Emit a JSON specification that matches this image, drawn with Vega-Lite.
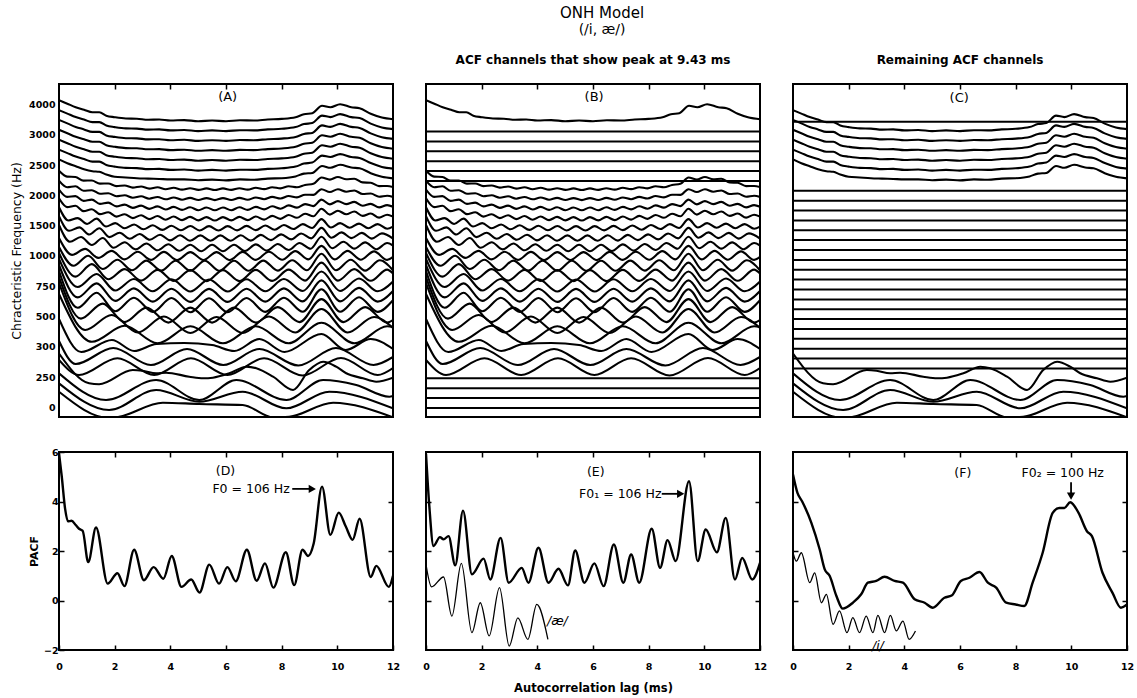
{
"$schema":"https://vega.github.io/schema/vega-lite/v6.json",
"background":"white",
"padding":{"left":9,"top":6,"right":5,"bottom":2},
"config":{
 "font":"DejaVu Sans",
 "view":{"stroke":"#000","strokeWidth":2},
 "axis":{"domain":false,"grid":false,"tickColor":"#000","tickWidth":1.5,"labelColor":"#000","titleColor":"#000","labelFontWeight":"bold","labelFontSize":9.5,"labelFlush":false,"labelOverlap":false},
 "title":{"color":"#000","subtitleColor":"#000"},
 "line":{"color":"#000"},
 "rule":{"color":"#000"},
 "text":{"color":"#000"}
},
"title":{"text":"ONH Model","subtitle":"(/i, æ/)","fontSize":15,"fontWeight":"normal","subtitleFontSize":14,"subtitlePadding":2,"anchor":"middle","offset":16,"dx":30},
"datasets":{
"acf":[
{"c":1,"x":0,"y":31.68},{"c":1,"x":0.3,"y":31.33},{"c":1,"x":0.6,"y":30.98},{"c":1,"x":0.9,"y":30.73},{"c":1,"x":1.2,"y":30.48},{"c":1,"x":1.45,"y":30.48},{"c":1,"x":1.7,"y":30.13},{"c":1,"x":2,"y":29.98},{"c":1,"x":2.4,"y":29.85},{"c":1,"x":2.8,"y":29.83},{"c":1,"x":3.2,"y":29.73},{"c":1,"x":3.6,"y":29.75},{"c":1,"x":4,"y":29.65},{"c":1,"x":4.5,"y":29.69},{"c":1,"x":5,"y":29.58},{"c":1,"x":5.5,"y":29.65},{"c":1,"x":6,"y":29.58},{"c":1,"x":6.5,"y":29.67},{"c":1,"x":7,"y":29.65},{"c":1,"x":7.5,"y":29.75},{"c":1,"x":8,"y":29.81},{"c":1,"x":8.5,"y":29.98},{"c":1,"x":8.8,"y":30.28},{"c":1,"x":9.1,"y":30.38},{"c":1,"x":9.45,"y":31.13},{"c":1,"x":9.75,"y":30.98},{"c":1,"x":10.1,"y":31.28},{"c":1,"x":10.5,"y":30.98},{"c":1,"x":10.8,"y":30.88},{"c":1,"x":11.2,"y":30.33},{"c":1,"x":11.6,"y":29.95},{"c":1,"x":12,"y":29.78},
{"c":2,"x":0,"y":30.69},{"c":2,"x":0.3,"y":30.34},{"c":2,"x":0.6,"y":29.99},{"c":2,"x":0.9,"y":29.74},{"c":2,"x":1.2,"y":29.49},{"c":2,"x":1.45,"y":29.49},{"c":2,"x":1.7,"y":29.14},{"c":2,"x":2,"y":28.99},{"c":2,"x":2.4,"y":28.86},{"c":2,"x":2.8,"y":28.84},{"c":2,"x":3.2,"y":28.74},{"c":2,"x":3.6,"y":28.76},{"c":2,"x":4,"y":28.66},{"c":2,"x":4.5,"y":28.7},{"c":2,"x":5,"y":28.59},{"c":2,"x":5.5,"y":28.66},{"c":2,"x":6,"y":28.59},{"c":2,"x":6.5,"y":28.68},{"c":2,"x":7,"y":28.66},{"c":2,"x":7.5,"y":28.76},{"c":2,"x":8,"y":28.82},{"c":2,"x":8.5,"y":28.99},{"c":2,"x":8.8,"y":29.29},{"c":2,"x":9.1,"y":29.39},{"c":2,"x":9.45,"y":30.14},{"c":2,"x":9.75,"y":29.99},{"c":2,"x":10.1,"y":30.29},{"c":2,"x":10.5,"y":29.99},{"c":2,"x":10.8,"y":29.89},{"c":2,"x":11.2,"y":29.34},{"c":2,"x":11.6,"y":28.96},{"c":2,"x":12,"y":28.79},
{"c":3,"x":0,"y":29.71},{"c":3,"x":0.3,"y":29.36},{"c":3,"x":0.6,"y":29.01},{"c":3,"x":0.9,"y":28.76},{"c":3,"x":1.2,"y":28.51},{"c":3,"x":1.45,"y":28.51},{"c":3,"x":1.7,"y":28.16},{"c":3,"x":2,"y":28.01},{"c":3,"x":2.4,"y":27.88},{"c":3,"x":2.8,"y":27.86},{"c":3,"x":3.2,"y":27.76},{"c":3,"x":3.6,"y":27.78},{"c":3,"x":4,"y":27.68},{"c":3,"x":4.5,"y":27.72},{"c":3,"x":5,"y":27.61},{"c":3,"x":5.5,"y":27.68},{"c":3,"x":6,"y":27.61},{"c":3,"x":6.5,"y":27.7},{"c":3,"x":7,"y":27.68},{"c":3,"x":7.5,"y":27.78},{"c":3,"x":8,"y":27.84},{"c":3,"x":8.5,"y":28.01},{"c":3,"x":8.8,"y":28.31},{"c":3,"x":9.1,"y":28.41},{"c":3,"x":9.45,"y":29.16},{"c":3,"x":9.75,"y":29.01},{"c":3,"x":10.1,"y":29.31},{"c":3,"x":10.5,"y":29.01},{"c":3,"x":10.8,"y":28.91},{"c":3,"x":11.2,"y":28.36},{"c":3,"x":11.6,"y":27.98},{"c":3,"x":12,"y":27.81},
{"c":4,"x":0,"y":28.72},{"c":4,"x":0.3,"y":28.37},{"c":4,"x":0.6,"y":28.02},{"c":4,"x":0.9,"y":27.77},{"c":4,"x":1.2,"y":27.52},{"c":4,"x":1.45,"y":27.52},{"c":4,"x":1.7,"y":27.17},{"c":4,"x":2,"y":27.02},{"c":4,"x":2.4,"y":26.89},{"c":4,"x":2.8,"y":26.87},{"c":4,"x":3.2,"y":26.77},{"c":4,"x":3.6,"y":26.79},{"c":4,"x":4,"y":26.69},{"c":4,"x":4.5,"y":26.73},{"c":4,"x":5,"y":26.62},{"c":4,"x":5.5,"y":26.69},{"c":4,"x":6,"y":26.62},{"c":4,"x":6.5,"y":26.71},{"c":4,"x":7,"y":26.69},{"c":4,"x":7.5,"y":26.79},{"c":4,"x":8,"y":26.85},{"c":4,"x":8.5,"y":27.02},{"c":4,"x":8.8,"y":27.32},{"c":4,"x":9.1,"y":27.42},{"c":4,"x":9.45,"y":28.17},{"c":4,"x":9.75,"y":28.02},{"c":4,"x":10.1,"y":28.32},{"c":4,"x":10.5,"y":28.02},{"c":4,"x":10.8,"y":27.92},{"c":4,"x":11.2,"y":27.37},{"c":4,"x":11.6,"y":26.99},{"c":4,"x":12,"y":26.82},
{"c":5,"x":0,"y":27.73},{"c":5,"x":0.3,"y":27.38},{"c":5,"x":0.6,"y":27.03},{"c":5,"x":0.9,"y":26.78},{"c":5,"x":1.2,"y":26.53},{"c":5,"x":1.45,"y":26.53},{"c":5,"x":1.7,"y":26.18},{"c":5,"x":2,"y":26.03},{"c":5,"x":2.4,"y":25.9},{"c":5,"x":2.8,"y":25.88},{"c":5,"x":3.2,"y":25.78},{"c":5,"x":3.6,"y":25.8},{"c":5,"x":4,"y":25.7},{"c":5,"x":4.5,"y":25.74},{"c":5,"x":5,"y":25.63},{"c":5,"x":5.5,"y":25.7},{"c":5,"x":6,"y":25.63},{"c":5,"x":6.5,"y":25.72},{"c":5,"x":7,"y":25.7},{"c":5,"x":7.5,"y":25.8},{"c":5,"x":8,"y":25.86},{"c":5,"x":8.5,"y":26.03},{"c":5,"x":8.8,"y":26.33},{"c":5,"x":9.1,"y":26.43},{"c":5,"x":9.45,"y":27.18},{"c":5,"x":9.75,"y":27.03},{"c":5,"x":10.1,"y":27.33},{"c":5,"x":10.5,"y":27.03},{"c":5,"x":10.8,"y":26.93},{"c":5,"x":11.2,"y":26.38},{"c":5,"x":11.6,"y":26},{"c":5,"x":12,"y":25.83},
{"c":6,"x":0,"y":26.74},{"c":6,"x":0.3,"y":26.39},{"c":6,"x":0.6,"y":26.04},{"c":6,"x":0.9,"y":25.79},{"c":6,"x":1.2,"y":25.54},{"c":6,"x":1.45,"y":25.54},{"c":6,"x":1.7,"y":25.19},{"c":6,"x":2,"y":25.04},{"c":6,"x":2.4,"y":24.91},{"c":6,"x":2.8,"y":24.89},{"c":6,"x":3.2,"y":24.79},{"c":6,"x":3.6,"y":24.81},{"c":6,"x":4,"y":24.71},{"c":6,"x":4.5,"y":24.75},{"c":6,"x":5,"y":24.64},{"c":6,"x":5.5,"y":24.71},{"c":6,"x":6,"y":24.64},{"c":6,"x":6.5,"y":24.73},{"c":6,"x":7,"y":24.71},{"c":6,"x":7.5,"y":24.81},{"c":6,"x":8,"y":24.87},{"c":6,"x":8.5,"y":25.04},{"c":6,"x":8.8,"y":25.34},{"c":6,"x":9.1,"y":25.44},{"c":6,"x":9.45,"y":26.14},{"c":6,"x":9.75,"y":26},{"c":6,"x":10.1,"y":26.29},{"c":6,"x":10.5,"y":26},{"c":6,"x":10.8,"y":25.9},{"c":6,"x":11.2,"y":25.39},{"c":6,"x":11.6,"y":25.01},{"c":6,"x":12,"y":24.84},
{"c":7,"x":0,"y":25.76},{"c":7,"x":0.3,"y":25.38},{"c":7,"x":0.6,"y":25.08},{"c":7,"x":0.9,"y":24.78},{"c":7,"x":1.2,"y":24.58},{"c":7,"x":1.45,"y":24.52},{"c":7,"x":1.7,"y":24.25},{"c":7,"x":2,"y":24.02},{"c":7,"x":2.4,"y":23.95},{"c":7,"x":2.8,"y":23.88},{"c":7,"x":3.2,"y":23.84},{"c":7,"x":3.6,"y":23.8},{"c":7,"x":4,"y":23.76},{"c":7,"x":4.5,"y":23.76},{"c":7,"x":5,"y":23.68},{"c":7,"x":5.5,"y":23.74},{"c":7,"x":6,"y":23.66},{"c":7,"x":6.5,"y":23.76},{"c":7,"x":7,"y":23.72},{"c":7,"x":7.5,"y":23.84},{"c":7,"x":8,"y":23.88},{"c":7,"x":8.5,"y":24.06},{"c":7,"x":8.8,"y":24.34},{"c":7,"x":9.1,"y":24.4},{"c":7,"x":9.45,"y":25.1},{"c":7,"x":9.75,"y":24.92},{"c":7,"x":10.1,"y":25.22},{"c":7,"x":10.5,"y":24.95},{"c":7,"x":10.8,"y":24.88},{"c":7,"x":11.2,"y":24.38},{"c":7,"x":11.6,"y":24.02},{"c":7,"x":12,"y":23.86},
{"c":8,"x":0,"y":24.62},{"c":8,"x":0.29,"y":24.04},{"c":8,"x":0.59,"y":24},{"c":8,"x":0.88,"y":23.64},{"c":8,"x":1.18,"y":23.65},{"c":8,"x":1.47,"y":23.34},{"c":8,"x":1.77,"y":23.35},{"c":8,"x":2.06,"y":23.09},{"c":8,"x":2.36,"y":23.15},{"c":8,"x":2.65,"y":22.94},{"c":8,"x":2.95,"y":23.05},{"c":8,"x":3.24,"y":22.84},{"c":8,"x":3.54,"y":22.97},{"c":8,"x":3.83,"y":22.78},{"c":8,"x":4.12,"y":22.92},{"c":8,"x":4.42,"y":22.74},{"c":8,"x":4.71,"y":22.88},{"c":8,"x":5.01,"y":22.71},{"c":8,"x":5.3,"y":22.86},{"c":8,"x":5.6,"y":22.7},{"c":8,"x":5.89,"y":22.86},{"c":8,"x":6.19,"y":22.71},{"c":8,"x":6.48,"y":22.88},{"c":8,"x":6.78,"y":22.74},{"c":8,"x":7.07,"y":22.92},{"c":8,"x":7.37,"y":22.79},{"c":8,"x":7.66,"y":22.98},{"c":8,"x":7.96,"y":22.86},{"c":8,"x":8.25,"y":23.07},{"c":8,"x":8.55,"y":22.97},{"c":8,"x":8.84,"y":23.2},{"c":8,"x":9.14,"y":23.32},{"c":8,"x":9.43,"y":23.95},{"c":8,"x":9.73,"y":23.74},{"c":8,"x":10.02,"y":24},{"c":8,"x":10.32,"y":23.77},{"c":8,"x":10.61,"y":23.82},{"c":8,"x":10.91,"y":23.46},{"c":8,"x":11.2,"y":23.42},{"c":8,"x":11.5,"y":23.09},{"c":8,"x":11.79,"y":23.1},{"c":8,"x":12,"y":23},
{"c":9,"x":0,"y":23.63},{"c":9,"x":0.29,"y":22.98},{"c":9,"x":0.59,"y":23.08},{"c":9,"x":0.88,"y":22.63},{"c":9,"x":1.18,"y":22.68},{"c":9,"x":1.47,"y":22.33},{"c":9,"x":1.77,"y":22.38},{"c":9,"x":2.06,"y":22.08},{"c":9,"x":2.36,"y":22.18},{"c":9,"x":2.65,"y":21.93},{"c":9,"x":2.95,"y":22.08},{"c":9,"x":3.24,"y":21.83},{"c":9,"x":3.54,"y":22},{"c":9,"x":3.83,"y":21.77},{"c":9,"x":4.12,"y":21.95},{"c":9,"x":4.42,"y":21.73},{"c":9,"x":4.71,"y":21.91},{"c":9,"x":5.01,"y":21.7},{"c":9,"x":5.3,"y":21.89},{"c":9,"x":5.6,"y":21.69},{"c":9,"x":5.89,"y":21.89},{"c":9,"x":6.19,"y":21.7},{"c":9,"x":6.48,"y":21.91},{"c":9,"x":6.78,"y":21.73},{"c":9,"x":7.07,"y":21.95},{"c":9,"x":7.37,"y":21.78},{"c":9,"x":7.66,"y":22.01},{"c":9,"x":7.96,"y":21.85},{"c":9,"x":8.25,"y":22.1},{"c":9,"x":8.55,"y":21.96},{"c":9,"x":8.84,"y":22.23},{"c":9,"x":9.14,"y":22.21},{"c":9,"x":9.43,"y":22.78},{"c":9,"x":9.73,"y":22.5},{"c":9,"x":10.02,"y":22.78},{"c":9,"x":10.32,"y":22.53},{"c":9,"x":10.61,"y":22.65},{"c":9,"x":10.91,"y":22.3},{"c":9,"x":11.2,"y":22.35},{"c":9,"x":11.5,"y":22.03},{"c":9,"x":11.79,"y":22.13},{"c":9,"x":12,"y":22.01},
{"c":10,"x":0,"y":22.75},{"c":10,"x":0.29,"y":22.01},{"c":10,"x":0.59,"y":22.09},{"c":10,"x":0.88,"y":21.61},{"c":10,"x":1.18,"y":21.74},{"c":10,"x":1.47,"y":21.31},{"c":10,"x":1.77,"y":21.44},{"c":10,"x":2.06,"y":21.06},{"c":10,"x":2.36,"y":21.24},{"c":10,"x":2.65,"y":20.91},{"c":10,"x":2.95,"y":21.14},{"c":10,"x":3.24,"y":20.81},{"c":10,"x":3.54,"y":21.06},{"c":10,"x":3.83,"y":20.75},{"c":10,"x":4.12,"y":21.01},{"c":10,"x":4.42,"y":20.71},{"c":10,"x":4.71,"y":20.97},{"c":10,"x":5.01,"y":20.68},{"c":10,"x":5.3,"y":20.95},{"c":10,"x":5.6,"y":20.67},{"c":10,"x":5.89,"y":20.95},{"c":10,"x":6.19,"y":20.68},{"c":10,"x":6.48,"y":20.97},{"c":10,"x":6.78,"y":20.71},{"c":10,"x":7.07,"y":21.01},{"c":10,"x":7.37,"y":20.76},{"c":10,"x":7.66,"y":21.07},{"c":10,"x":7.96,"y":20.83},{"c":10,"x":8.25,"y":21.16},{"c":10,"x":8.55,"y":20.94},{"c":10,"x":8.84,"y":21.29},{"c":10,"x":9.14,"y":21.09},{"c":10,"x":9.43,"y":21.74},{"c":10,"x":9.73,"y":21.26},{"c":10,"x":10.02,"y":21.59},{"c":10,"x":10.32,"y":21.29},{"c":10,"x":10.61,"y":21.51},{"c":10,"x":10.91,"y":21.13},{"c":10,"x":11.2,"y":21.31},{"c":10,"x":11.5,"y":20.96},{"c":10,"x":11.79,"y":21.19},{"c":10,"x":12,"y":21.03},
{"c":11,"x":0,"y":21.86},{"c":11,"x":0.29,"y":20.99},{"c":11,"x":0.59,"y":21.13},{"c":11,"x":0.88,"y":20.59},{"c":11,"x":1.18,"y":20.78},{"c":11,"x":1.47,"y":20.29},{"c":11,"x":1.77,"y":20.48},{"c":11,"x":2.06,"y":20.04},{"c":11,"x":2.36,"y":20.28},{"c":11,"x":2.65,"y":19.89},{"c":11,"x":2.95,"y":20.18},{"c":11,"x":3.24,"y":19.79},{"c":11,"x":3.54,"y":20.1},{"c":11,"x":3.83,"y":19.73},{"c":11,"x":4.12,"y":20.05},{"c":11,"x":4.42,"y":19.69},{"c":11,"x":4.71,"y":20.01},{"c":11,"x":5.01,"y":19.66},{"c":11,"x":5.3,"y":19.99},{"c":11,"x":5.6,"y":19.65},{"c":11,"x":5.89,"y":19.99},{"c":11,"x":6.19,"y":19.66},{"c":11,"x":6.48,"y":20.01},{"c":11,"x":6.78,"y":19.69},{"c":11,"x":7.07,"y":20.05},{"c":11,"x":7.37,"y":19.74},{"c":11,"x":7.66,"y":20.11},{"c":11,"x":7.96,"y":19.81},{"c":11,"x":8.25,"y":20.2},{"c":11,"x":8.55,"y":19.92},{"c":11,"x":8.84,"y":20.33},{"c":11,"x":9.14,"y":20.07},{"c":11,"x":9.43,"y":20.83},{"c":11,"x":9.73,"y":20.24},{"c":11,"x":10.02,"y":20.63},{"c":11,"x":10.32,"y":20.27},{"c":11,"x":10.61,"y":20.55},{"c":11,"x":10.91,"y":20.11},{"c":11,"x":11.2,"y":20.35},{"c":11,"x":11.5,"y":19.94},{"c":11,"x":11.79,"y":20.23},{"c":11,"x":12,"y":20.04},
{"c":12,"x":0,"y":20.97},{"c":12,"x":0.34,"y":19.65},{"c":12,"x":0.67,"y":19.89},{"c":12,"x":1.01,"y":19.3},{"c":12,"x":1.35,"y":19.84},{"c":12,"x":1.69,"y":19.05},{"c":12,"x":2.02,"y":19.39},{"c":12,"x":2.36,"y":18.87},{"c":12,"x":2.7,"y":19.25},{"c":12,"x":3.03,"y":18.77},{"c":12,"x":3.37,"y":19.17},{"c":12,"x":3.71,"y":18.71},{"c":12,"x":4.04,"y":19.13},{"c":12,"x":4.38,"y":18.67},{"c":12,"x":4.72,"y":19.1},{"c":12,"x":5.05,"y":18.65},{"c":12,"x":5.39,"y":19.09},{"c":12,"x":5.73,"y":18.65},{"c":12,"x":6.06,"y":19.09},{"c":12,"x":6.4,"y":18.66},{"c":12,"x":6.74,"y":19.11},{"c":12,"x":7.07,"y":18.69},{"c":12,"x":7.41,"y":19.15},{"c":12,"x":7.75,"y":18.73},{"c":12,"x":8.08,"y":19.2},{"c":12,"x":8.42,"y":18.8},{"c":12,"x":8.76,"y":19.29},{"c":12,"x":9.09,"y":18.9},{"c":12,"x":9.43,"y":19.79},{"c":12,"x":9.77,"y":18.95},{"c":12,"x":10.1,"y":19.39},{"c":12,"x":10.44,"y":18.93},{"c":12,"x":10.78,"y":19.34},{"c":12,"x":11.11,"y":18.87},{"c":12,"x":11.45,"y":19.29},{"c":12,"x":11.79,"y":18.83},{"c":12,"x":12,"y":19.04},
{"c":13,"x":0,"y":20.09},{"c":13,"x":0.36,"y":18.62},{"c":13,"x":0.73,"y":18.96},{"c":13,"x":1.09,"y":18.25},{"c":13,"x":1.45,"y":18.88},{"c":13,"x":1.81,"y":17.99},{"c":13,"x":2.18,"y":18.43},{"c":13,"x":2.54,"y":17.82},{"c":13,"x":2.9,"y":18.3},{"c":13,"x":3.26,"y":17.72},{"c":13,"x":3.63,"y":18.23},{"c":13,"x":3.99,"y":17.66},{"c":13,"x":4.35,"y":18.18},{"c":13,"x":4.71,"y":17.63},{"c":13,"x":5.08,"y":18.16},{"c":13,"x":5.44,"y":17.62},{"c":13,"x":5.8,"y":18.16},{"c":13,"x":6.16,"y":17.62},{"c":13,"x":6.53,"y":18.17},{"c":13,"x":6.89,"y":17.64},{"c":13,"x":7.25,"y":18.21},{"c":13,"x":7.61,"y":17.69},{"c":13,"x":7.98,"y":18.26},{"c":13,"x":8.34,"y":17.76},{"c":13,"x":8.7,"y":18.35},{"c":13,"x":9.06,"y":17.86},{"c":13,"x":9.43,"y":18.91},{"c":13,"x":9.79,"y":17.92},{"c":13,"x":10.15,"y":18.46},{"c":13,"x":10.51,"y":17.89},{"c":13,"x":10.88,"y":18.41},{"c":13,"x":11.24,"y":17.84},{"c":13,"x":11.6,"y":18.36},{"c":13,"x":12,"y":17.84},
{"c":14,"x":0,"y":19.2},{"c":14,"x":0.39,"y":17.53},{"c":14,"x":0.79,"y":18},{"c":14,"x":1.18,"y":17.2},{"c":14,"x":1.57,"y":17.9},{"c":14,"x":1.96,"y":16.93},{"c":14,"x":2.36,"y":17.47},{"c":14,"x":2.75,"y":16.76},{"c":14,"x":3.14,"y":17.35},{"c":14,"x":3.54,"y":16.67},{"c":14,"x":3.93,"y":17.28},{"c":14,"x":4.32,"y":16.62},{"c":14,"x":4.72,"y":17.23},{"c":14,"x":5.11,"y":16.58},{"c":14,"x":5.5,"y":17.22},{"c":14,"x":5.89,"y":16.58},{"c":14,"x":6.29,"y":17.23},{"c":14,"x":6.68,"y":16.6},{"c":14,"x":7.07,"y":17.26},{"c":14,"x":7.47,"y":16.64},{"c":14,"x":7.86,"y":17.3},{"c":14,"x":8.25,"y":16.7},{"c":14,"x":8.64,"y":17.4},{"c":14,"x":9.04,"y":16.82},{"c":14,"x":9.43,"y":18.02},{"c":14,"x":9.82,"y":16.88},{"c":14,"x":10.22,"y":17.52},{"c":14,"x":10.61,"y":16.84},{"c":14,"x":11,"y":17.46},{"c":14,"x":11.4,"y":16.78},{"c":14,"x":11.79,"y":17.4},{"c":14,"x":12,"y":17.15},
{"c":15,"x":0,"y":17.9},{"c":15,"x":0.47,"y":16.21},{"c":15,"x":0.94,"y":16.81},{"c":15,"x":1.41,"y":15.91},{"c":15,"x":1.89,"y":16.61},{"c":15,"x":2.36,"y":15.76},{"c":15,"x":2.83,"y":16.53},{"c":15,"x":3.3,"y":15.71},{"c":15,"x":3.77,"y":16.51},{"c":15,"x":4.24,"y":15.69},{"c":15,"x":4.72,"y":16.49},{"c":15,"x":5.19,"y":15.69},{"c":15,"x":5.66,"y":16.49},{"c":15,"x":6.13,"y":15.69},{"c":15,"x":6.6,"y":16.51},{"c":15,"x":7.07,"y":15.71},{"c":15,"x":7.54,"y":16.53},{"c":15,"x":8.02,"y":15.73},{"c":15,"x":8.49,"y":16.59},{"c":15,"x":8.96,"y":15.76},{"c":15,"x":9.43,"y":17.11},{"c":15,"x":9.9,"y":15.76},{"c":15,"x":10.37,"y":16.61},{"c":15,"x":10.84,"y":15.73},{"c":15,"x":11.32,"y":16.56},{"c":15,"x":11.79,"y":15.71},{"c":15,"x":12,"y":16.01},
{"c":16,"x":0,"y":17},{"c":16,"x":0.52,"y":15.12},{"c":16,"x":1.05,"y":16.12},{"c":16,"x":1.57,"y":14.8},{"c":16,"x":2.1,"y":15.72},{"c":16,"x":2.62,"y":14.67},{"c":16,"x":3.14,"y":15.64},{"c":16,"x":3.67,"y":14.64},{"c":16,"x":4.19,"y":15.62},{"c":16,"x":4.72,"y":14.62},{"c":16,"x":5.24,"y":15.62},{"c":16,"x":5.76,"y":14.62},{"c":16,"x":6.29,"y":15.62},{"c":16,"x":6.81,"y":14.62},{"c":16,"x":7.34,"y":15.64},{"c":16,"x":7.86,"y":14.64},{"c":16,"x":8.38,"y":15.67},{"c":16,"x":8.91,"y":14.67},{"c":16,"x":9.43,"y":16.32},{"c":16,"x":9.95,"y":14.67},{"c":16,"x":10.48,"y":15.72},{"c":16,"x":11,"y":14.64},{"c":16,"x":11.53,"y":15.67},{"c":16,"x":12,"y":14.67},
{"c":17,"x":0,"y":16.4},{"c":17,"x":0.59,"y":14.04},{"c":17,"x":1.18,"y":15.29},{"c":17,"x":1.77,"y":13.77},{"c":17,"x":2.36,"y":14.79},{"c":17,"x":2.95,"y":13.64},{"c":17,"x":3.54,"y":14.71},{"c":17,"x":4.13,"y":13.61},{"c":17,"x":4.72,"y":14.69},{"c":17,"x":5.31,"y":13.59},{"c":17,"x":5.89,"y":14.69},{"c":17,"x":6.48,"y":13.59},{"c":17,"x":7.07,"y":14.71},{"c":17,"x":7.66,"y":13.61},{"c":17,"x":8.25,"y":14.74},{"c":17,"x":8.84,"y":13.64},{"c":17,"x":9.43,"y":15.44},{"c":17,"x":10.02,"y":13.64},{"c":17,"x":10.61,"y":14.79},{"c":17,"x":11.2,"y":13.62},{"c":17,"x":11.79,"y":14.74},{"c":17,"x":12,"y":14.34},
{"c":18,"x":0,"y":15.8},{"c":18,"x":0.67,"y":13},{"c":18,"x":1.35,"y":14.3},{"c":18,"x":2.02,"y":12.65},{"c":18,"x":2.69,"y":13.8},{"c":18,"x":3.37,"y":12.57},{"c":18,"x":4.04,"y":13.77},{"c":18,"x":4.72,"y":12.55},{"c":18,"x":5.39,"y":13.75},{"c":18,"x":6.06,"y":12.55},{"c":18,"x":6.74,"y":13.77},{"c":18,"x":7.41,"y":12.57},{"c":18,"x":8.08,"y":13.8},{"c":18,"x":8.76,"y":12.6},{"c":18,"x":9.43,"y":14.55},{"c":18,"x":10.1,"y":12.6},{"c":18,"x":10.78,"y":13.85},{"c":18,"x":11.45,"y":12.57},{"c":18,"x":12,"y":13.55},
{"c":19,"x":0,"y":15.2},{"c":19,"x":0.67,"y":11.96},{"c":19,"x":1.35,"y":13.36},{"c":19,"x":2.02,"y":11.61},{"c":19,"x":2.69,"y":12.86},{"c":19,"x":3.37,"y":11.54},{"c":19,"x":4.04,"y":12.83},{"c":19,"x":4.72,"y":11.51},{"c":19,"x":5.39,"y":12.81},{"c":19,"x":6.06,"y":11.51},{"c":19,"x":6.74,"y":12.83},{"c":19,"x":7.41,"y":11.54},{"c":19,"x":8.08,"y":12.86},{"c":19,"x":8.76,"y":11.56},{"c":19,"x":9.43,"y":13.66},{"c":19,"x":10.1,"y":11.56},{"c":19,"x":10.78,"y":12.91},{"c":19,"x":11.45,"y":11.54},{"c":19,"x":12,"y":12.61},
{"c":20,"x":0,"y":14.6},{"c":20,"x":0.67,"y":10.93},{"c":20,"x":1.35,"y":12.43},{"c":20,"x":2.02,"y":10.58},{"c":20,"x":2.69,"y":11.93},{"c":20,"x":3.37,"y":10.51},{"c":20,"x":4.04,"y":11.9},{"c":20,"x":4.72,"y":10.48},{"c":20,"x":5.39,"y":11.88},{"c":20,"x":6.06,"y":10.48},{"c":20,"x":6.74,"y":11.9},{"c":20,"x":7.41,"y":10.51},{"c":20,"x":8.08,"y":11.93},{"c":20,"x":8.76,"y":10.53},{"c":20,"x":9.43,"y":12.78},{"c":20,"x":10.1,"y":10.53},{"c":20,"x":10.78,"y":11.98},{"c":20,"x":11.45,"y":10.51},{"c":20,"x":12,"y":11.68},
{"c":21,"x":0,"y":14},{"c":21,"x":0.79,"y":9.84},{"c":21,"x":1.57,"y":11.34},{"c":21,"x":2.36,"y":9.49},{"c":21,"x":3.14,"y":10.94},{"c":21,"x":3.93,"y":9.44},{"c":21,"x":4.72,"y":10.94},{"c":21,"x":5.5,"y":9.44},{"c":21,"x":6.29,"y":10.94},{"c":21,"x":7.07,"y":9.44},{"c":21,"x":7.86,"y":10.99},{"c":21,"x":8.64,"y":9.49},{"c":21,"x":9.43,"y":11.79},{"c":21,"x":10.22,"y":9.49},{"c":21,"x":11,"y":10.99},{"c":21,"x":11.79,"y":9.44},{"c":21,"x":12,"y":9.7},
{"c":22,"x":0,"y":13.4},{"c":22,"x":0.94,"y":8.7},{"c":22,"x":1.89,"y":10.2},{"c":22,"x":2.83,"y":8.45},{"c":22,"x":3.77,"y":10.05},{"c":22,"x":4.72,"y":8.4},{"c":22,"x":5.66,"y":10},{"c":22,"x":6.6,"y":8.4},{"c":22,"x":7.54,"y":10.05},{"c":22,"x":8.49,"y":8.45},{"c":22,"x":9.43,"y":10.8},{"c":22,"x":10.37,"y":8.45},{"c":22,"x":11.32,"y":10},{"c":22,"x":12,"y":8.9},
{"c":23,"x":0,"y":12.3},{"c":23,"x":1.18,"y":7.52},{"c":23,"x":2.36,"y":9.12},{"c":23,"x":3.54,"y":7.37},{"c":23,"x":4.72,"y":9.07},{"c":23,"x":5.89,"y":7.37},{"c":23,"x":7.07,"y":9.07},{"c":23,"x":8.25,"y":7.37},{"c":23,"x":9.43,"y":9.42},{"c":23,"x":10.61,"y":7.37},{"c":23,"x":11.79,"y":9.07},{"c":23,"x":12,"y":9},
{"c":24,"x":0,"y":9.8},{"c":24,"x":0.8,"y":6.5},{"c":24,"x":1.9,"y":7.7},{"c":24,"x":2.7,"y":6.6},{"c":24,"x":3.5,"y":7.3},{"c":24,"x":4.5,"y":7.4},{"c":24,"x":5.5,"y":7.2},{"c":24,"x":6.3,"y":6.6},{"c":24,"x":7.2,"y":7.8},{"c":24,"x":8.1,"y":6.5},{"c":24,"x":9.43,"y":8.3},{"c":24,"x":10.3,"y":6.7},{"c":24,"x":11.2,"y":7.8},{"c":24,"x":12,"y":6.8},
{"c":25,"x":0,"y":7.6},{"c":25,"x":0.6,"y":5.3},{"c":25,"x":1.95,"y":6.9},{"c":25,"x":3.3,"y":5.2},{"c":25,"x":4.6,"y":6.8},{"c":25,"x":5.9,"y":5.2},{"c":25,"x":7.2,"y":6.8},{"c":25,"x":8.6,"y":5.15},{"c":25,"x":9.95,"y":6.9},{"c":25,"x":11.3,"y":5.2},{"c":25,"x":12,"y":6},
{"c":26,"x":0,"y":5.7},{"c":26,"x":0.72,"y":4.2},{"c":26,"x":2.1,"y":5.87},{"c":26,"x":3.42,"y":4.2},{"c":26,"x":4.74,"y":5.87},{"c":26,"x":6.05,"y":4.2},{"c":26,"x":7.37,"y":5.87},{"c":26,"x":8.75,"y":4.15},{"c":26,"x":10.13,"y":5.9},{"c":26,"x":11.45,"y":4.2},{"c":26,"x":12,"y":4.9},
{"c":27,"x":0,"y":6.35},{"c":27,"x":1.08,"y":3.37},{"c":27,"x":1.44,"y":3.27},{"c":27,"x":2.65,"y":4.7},{"c":27,"x":3,"y":4.63},{"c":27,"x":3.49,"y":4.37},{"c":27,"x":3.85,"y":4.43},{"c":27,"x":4.68,"y":4.03},{"c":27,"x":5.18,"y":3.87},{"c":27,"x":5.53,"y":3.93},{"c":27,"x":6.12,"y":4.37},{"c":27,"x":6.73,"y":5.03},{"c":27,"x":7.09,"y":4.87},{"c":27,"x":7.69,"y":4.03},{"c":27,"x":8.41,"y":2.7},{"c":27,"x":8.99,"y":4.7},{"c":27,"x":9.49,"y":5.53},{"c":27,"x":9.96,"y":5.03},{"c":27,"x":10.32,"y":4.37},{"c":27,"x":10.92,"y":3.87},{"c":27,"x":11.4,"y":3.53},{"c":27,"x":12,"y":3.93},
{"c":28,"x":0,"y":4.37},{"c":28,"x":1.69,"y":1.7},{"c":28,"x":3.49,"y":3.7},{"c":28,"x":5.04,"y":1.7},{"c":28,"x":6.37,"y":3.7},{"c":28,"x":8.17,"y":1.7},{"c":28,"x":9.49,"y":3.7},{"c":28,"x":10.68,"y":3.2},{"c":28,"x":11.87,"y":2.03},{"c":28,"x":12,"y":2.1},
{"c":29,"x":0,"y":3.37},{"c":29,"x":1.8,"y":0.7},{"c":29,"x":3.49,"y":2.7},{"c":29,"x":5.04,"y":1.53},{"c":29,"x":6.6,"y":2.53},{"c":29,"x":8.17,"y":0.87},{"c":29,"x":9.71,"y":2.53},{"c":29,"x":12,"y":0.87},
{"c":30,"x":0,"y":2.53},{"c":30,"x":1.8,"y":-0.1},{"c":30,"x":2.16,"y":0.03},{"c":30,"x":3.73,"y":1.43},{"c":30,"x":5.04,"y":1.3},{"c":30,"x":6.6,"y":1.2},{"c":30,"x":7.69,"y":-0.03},{"c":30,"x":8.27,"y":0.03},{"c":30,"x":9.85,"y":1.43},{"c":30,"x":12,"y":-0.03}
],
"base":[
{"c":1,"y":29.53},{"c":2,"y":28.54},{"c":3,"y":27.56},{"c":4,"y":26.57},{"c":5,"y":25.58},{"c":6,"y":24.59},{"c":7,"y":23.61},{"c":8,"y":22.62},{"c":9,"y":21.63},{"c":10,"y":20.65},{"c":11,"y":19.66},{"c":12,"y":18.67},{"c":13,"y":17.69},{"c":14,"y":16.7},{"c":15,"y":15.71},{"c":16,"y":14.72},{"c":17,"y":13.74},{"c":18,"y":12.75},{"c":19,"y":11.76},{"c":20,"y":10.78},{"c":21,"y":9.79},{"c":22,"y":8.8},{"c":23,"y":7.82},{"c":24,"y":6.83},{"c":25,"y":5.84},{"c":26,"y":4.85},{"c":27,"y":3.87},{"c":28,"y":2.88},{"c":29,"y":1.89},{"c":30,"y":0.91}
],
"pacf":[
{"p":"D","s":"k","x":0,"y":5.95},{"p":"D","s":"k","x":0.1,"y":5.0},{"p":"D","s":"k","x":0.22,"y":3.7},{"p":"D","s":"k","x":0.32,"y":3.2},{"p":"D","s":"k","x":0.45,"y":3.22},{"p":"D","s":"k","x":0.6,"y":3.05},{"p":"D","s":"k","x":0.72,"y":2.9},{"p":"D","s":"k","x":0.85,"y":2.82},{"p":"D","s":"k","x":1.05,"y":1.55},{"p":"D","s":"k","x":1.33,"y":2.95},{"p":"D","s":"k","x":1.75,"y":0.68},{"p":"D","s":"k","x":2.1,"y":1.1},{"p":"D","s":"k","x":2.35,"y":0.58},{"p":"D","s":"k","x":2.7,"y":2.05},{"p":"D","s":"k","x":3.05,"y":0.82},{"p":"D","s":"k","x":3.4,"y":1.35},{"p":"D","s":"k","x":3.75,"y":0.88},{"p":"D","s":"k","x":4.05,"y":1.8},{"p":"D","s":"k","x":4.4,"y":0.55},{"p":"D","s":"k","x":4.75,"y":0.85},{"p":"D","s":"k","x":5.05,"y":0.32},{"p":"D","s":"k","x":5.4,"y":1.45},{"p":"D","s":"k","x":5.75,"y":0.68},{"p":"D","s":"k","x":6.05,"y":1.35},{"p":"D","s":"k","x":6.35,"y":0.78},{"p":"D","s":"k","x":6.75,"y":2.05},{"p":"D","s":"k","x":7.1,"y":0.8},{"p":"D","s":"k","x":7.4,"y":1.5},{"p":"D","s":"k","x":7.7,"y":0.52},{"p":"D","s":"k","x":8.15,"y":1.95},{"p":"D","s":"k","x":8.45,"y":0.62},{"p":"D","s":"k","x":8.75,"y":2.05},{"p":"D","s":"k","x":8.95,"y":1.8},{"p":"D","s":"k","x":9.15,"y":2.3},{"p":"D","s":"k","x":9.45,"y":4.6},{"p":"D","s":"k","x":9.75,"y":2.65},{"p":"D","s":"k","x":10.05,"y":3.55},{"p":"D","s":"k","x":10.3,"y":3.0},{"p":"D","s":"k","x":10.55,"y":2.45},{"p":"D","s":"k","x":10.8,"y":3.3},{"p":"D","s":"k","x":11.2,"y":0.95},{"p":"D","s":"k","x":11.4,"y":1.4},{"p":"D","s":"k","x":11.85,"y":0.55},{"p":"D","s":"k","x":12,"y":1.0},
{"p":"E","s":"k","x":0,"y":5.93},{"p":"E","s":"k","x":0.12,"y":3.8},{"p":"E","s":"k","x":0.27,"y":2.2},{"p":"E","s":"k","x":0.5,"y":2.56},{"p":"E","s":"k","x":0.63,"y":2.47},{"p":"E","s":"k","x":0.81,"y":2.6},{"p":"E","s":"k","x":1.05,"y":1.42},{"p":"E","s":"k","x":1.33,"y":3.63},{"p":"E","s":"k","x":1.65,"y":1.06},{"p":"E","s":"k","x":2.07,"y":1.69},{"p":"E","s":"k","x":2.31,"y":0.85},{"p":"E","s":"k","x":2.68,"y":2.53},{"p":"E","s":"k","x":2.97,"y":0.72},{"p":"E","s":"k","x":3.44,"y":1.32},{"p":"E","s":"k","x":3.68,"y":0.72},{"p":"E","s":"k","x":4.04,"y":2.13},{"p":"E","s":"k","x":4.4,"y":0.72},{"p":"E","s":"k","x":4.76,"y":1.28},{"p":"E","s":"k","x":5.1,"y":0.61},{"p":"E","s":"k","x":5.36,"y":2.02},{"p":"E","s":"k","x":5.69,"y":0.72},{"p":"E","s":"k","x":6.05,"y":1.5},{"p":"E","s":"k","x":6.38,"y":0.58},{"p":"E","s":"k","x":6.75,"y":2.26},{"p":"E","s":"k","x":7.09,"y":0.72},{"p":"E","s":"k","x":7.37,"y":1.86},{"p":"E","s":"k","x":7.66,"y":0.72},{"p":"E","s":"k","x":8.11,"y":2.9},{"p":"E","s":"k","x":8.41,"y":1.32},{"p":"E","s":"k","x":8.68,"y":2.44},{"p":"E","s":"k","x":8.97,"y":1.59},{"p":"E","s":"k","x":9.45,"y":4.82},{"p":"E","s":"k","x":9.76,"y":1.59},{"p":"E","s":"k","x":10.05,"y":2.87},{"p":"E","s":"k","x":10.45,"y":1.95},{"p":"E","s":"k","x":10.77,"y":3.34},{"p":"E","s":"k","x":11.1,"y":0.85},{"p":"E","s":"k","x":11.36,"y":1.72},{"p":"E","s":"k","x":11.72,"y":0.85},{"p":"E","s":"k","x":12,"y":1.52},
{"p":"E","s":"t","x":0,"y":1.45},{"p":"E","s":"t","x":0.2,"y":0.55},{"p":"E","s":"t","x":0.63,"y":0.95},{"p":"E","s":"t","x":0.93,"y":-0.63},{"p":"E","s":"t","x":1.27,"y":1.5},{"p":"E","s":"t","x":1.65,"y":-1.3},{"p":"E","s":"t","x":1.95,"y":-0.09},{"p":"E","s":"t","x":2.27,"y":-1.43},{"p":"E","s":"t","x":2.64,"y":0.52},{"p":"E","s":"t","x":2.99,"y":-1.84},{"p":"E","s":"t","x":3.3,"y":-0.7},{"p":"E","s":"t","x":3.66,"y":-1.57},{"p":"E","s":"t","x":3.98,"y":-0.16},{"p":"E","s":"t","x":4.38,"y":-1.57},
{"p":"F","s":"k","x":0,"y":5.09},{"p":"F","s":"k","x":0.16,"y":4.35},{"p":"F","s":"k","x":0.33,"y":4.0},{"p":"F","s":"k","x":0.66,"y":3.14},{"p":"F","s":"k","x":0.96,"y":2.06},{"p":"F","s":"k","x":1.14,"y":1.26},{"p":"F","s":"k","x":1.32,"y":0.99},{"p":"F","s":"k","x":1.56,"y":0.18},{"p":"F","s":"k","x":1.79,"y":-0.33},{"p":"F","s":"k","x":2.15,"y":-0.09},{"p":"F","s":"k","x":2.45,"y":0.25},{"p":"F","s":"k","x":2.69,"y":0.72},{"p":"F","s":"k","x":2.99,"y":0.79},{"p":"F","s":"k","x":3.29,"y":0.96},{"p":"F","s":"k","x":3.65,"y":0.79},{"p":"F","s":"k","x":3.95,"y":0.72},{"p":"F","s":"k","x":4.37,"y":0.05},{"p":"F","s":"k","x":4.73,"y":-0.09},{"p":"F","s":"k","x":5.02,"y":-0.29},{"p":"F","s":"k","x":5.44,"y":0.11},{"p":"F","s":"k","x":5.7,"y":0.2},{"p":"F","s":"k","x":6.03,"y":0.79},{"p":"F","s":"k","x":6.34,"y":0.92},{"p":"F","s":"k","x":6.7,"y":1.15},{"p":"F","s":"k","x":7.0,"y":0.72},{"p":"F","s":"k","x":7.3,"y":0.52},{"p":"F","s":"k","x":7.66,"y":-0.09},{"p":"F","s":"k","x":8.0,"y":-0.16},{"p":"F","s":"k","x":8.31,"y":-0.22},{"p":"F","s":"k","x":8.61,"y":0.72},{"p":"F","s":"k","x":8.97,"y":1.93},{"p":"F","s":"k","x":9.33,"y":3.54},{"p":"F","s":"k","x":9.57,"y":3.74},{"p":"F","s":"k","x":9.75,"y":3.74},{"p":"F","s":"k","x":9.96,"y":3.97},{"p":"F","s":"k","x":10.26,"y":3.54},{"p":"F","s":"k","x":10.56,"y":2.8},{"p":"F","s":"k","x":10.74,"y":2.6},{"p":"F","s":"k","x":11.12,"y":1.12},{"p":"F","s":"k","x":11.48,"y":0.31},{"p":"F","s":"k","x":11.78,"y":-0.29},{"p":"F","s":"k","x":12,"y":-0.16},
{"p":"F","s":"t","x":0,"y":1.93},{"p":"F","s":"t","x":0.12,"y":1.59},{"p":"F","s":"t","x":0.3,"y":1.93},{"p":"F","s":"t","x":0.6,"y":0.72},{"p":"F","s":"t","x":0.78,"y":1.12},{"p":"F","s":"t","x":1.02,"y":-0.09},{"p":"F","s":"t","x":1.2,"y":0.25},{"p":"F","s":"t","x":1.44,"y":-0.96},{"p":"F","s":"t","x":1.67,"y":-0.42},{"p":"F","s":"t","x":1.94,"y":-1.3},{"p":"F","s":"t","x":2.15,"y":-0.69},{"p":"F","s":"t","x":2.39,"y":-1.3},{"p":"F","s":"t","x":2.63,"y":-0.63},{"p":"F","s":"t","x":2.87,"y":-1.3},{"p":"F","s":"t","x":3.05,"y":-0.6},{"p":"F","s":"t","x":3.29,"y":-1.3},{"p":"F","s":"t","x":3.5,"y":-0.6},{"p":"F","s":"t","x":3.71,"y":-1.23},{"p":"F","s":"t","x":3.95,"y":-0.83},{"p":"F","s":"t","x":4.17,"y":-1.57},{"p":"F","s":"t","x":4.4,"y":-1.23}
],
"ann":[
{"p":"A","t":"(A)","x":6.06,"y":32.0},{"p":"B","t":"(B)","x":6.04,"y":32.0},{"p":"C","t":"(C)","x":5.97,"y":31.9},
{"p":"D","t":"(D)","x":5.98,"y":5.22},{"p":"D","t":"F0 = 106 Hz","x":6.9,"y":4.51},
{"p":"E","t":"(E)","x":6.1,"y":5.19},{"p":"E","t":"F0₁ = 106 Hz","x":6.98,"y":4.31},
{"p":"F","t":"(F)","x":6.1,"y":5.15},{"p":"F","t":"F0₂ = 100 Hz","x":9.69,"y":5.15}
],
"ital":[{"p":"E","t":"/æ/","x":4.72,"y":-0.83},{"p":"F","t":"/i/","x":3.05,"y":-1.82}],
"arr":[{"p":"D","x":8.38,"x2":9.05,"y":4.51,"y2":4.51},{"p":"E","x":8.47,"x2":9.1,"y":4.31,"y2":4.31},{"p":"F","x":9.99,"x2":9.99,"y":4.78,"y2":4.3}],
"head":[{"p":"D","x":9.1,"y":4.51},{"p":"E","x":9.15,"y":4.31},{"p":"F","x":9.99,"y":4.22}]
},
"concat":[
{"width":334,"height":333,
 "layer":[
  {"data":{"name":"acf"},"mark":{"type":"line","interpolate":"monotone","strokeWidth":2.1,"color":"#000","clip":true},
   "encoding":{
    "x":{"field":"x","type":"quantitative","scale":{"domain":[0,12],"nice":false},"axis":{"orient":"top","values":[2,4,6,8,10],"labels":false,"title":null,"tickSize":-5}},
    "y":{"field":"y","type":"quantitative","scale":{"domain":[0,33.3],"nice":false,"zero":false},"axis":{"values":[0.97,3.97,7.03,10.03,13.03,16.13,19.13,22.2,25.2,28.27,31.27],"labelExpr":"datum.value < 2 ? '0' : datum.value < 5 ? '250' : datum.value < 8 ? '300' : datum.value < 11 ? '500' : datum.value < 14 ? '750' : datum.value < 17 ? '1000' : datum.value < 20 ? '1500' : datum.value < 23 ? '2000' : datum.value < 26 ? '2500' : datum.value < 29 ? '3000' : '4000'","ticks":false,"labelPadding":4,"title":"Chracteristic Frequency (Hz)","titleFontWeight":"normal","titleFontSize":12.5,"titlePadding":5}},
    "detail":{"field":"c","type":"nominal"}}},
  {"data":{"name":"ann"},"transform":[{"filter":"datum.p == 'A'"}],"mark":{"type":"text","fontSize":13,"color":"#000"},
   "encoding":{"x":{"field":"x","type":"quantitative","axis":{"orient":"top","values":[2,4,6,8,10],"labels":false,"title":null,"tickSize":-5}},"y":{"field":"y","type":"quantitative","axis":{"values":[0.97,3.97,7.03,10.03,13.03,16.13,19.13,22.2,25.2,28.27,31.27],"labelExpr":"datum.value < 2 ? '0' : datum.value < 5 ? '250' : datum.value < 8 ? '300' : datum.value < 11 ? '500' : datum.value < 14 ? '750' : datum.value < 17 ? '1000' : datum.value < 20 ? '1500' : datum.value < 23 ? '2000' : datum.value < 26 ? '2500' : datum.value < 29 ? '3000' : '4000'","ticks":false,"labelPadding":4,"title":"Chracteristic Frequency (Hz)","titleFontWeight":"normal","titleFontSize":12.5,"titlePadding":5}},"text":{"field":"t"}}}
 ]},
{"width":334,"height":333,
 "title":{"text":"ACF channels that show peak at 9.43 ms","fontSize":12,"fontWeight":"bold","offset":16},
 "layer":[
  {"data":{"name":"acf"},"transform":[{"filter":{"field":"c","oneOf":[1,8,9,10,11,12,13,14,15,16,17,18,19,20,21,22,23,24,25,26]}}],"mark":{"type":"line","interpolate":"monotone","strokeWidth":2.1,"color":"#000","clip":true},
   "encoding":{
    "x":{"field":"x","type":"quantitative","scale":{"domain":[0,12],"nice":false},"axis":{"orient":"top","values":[2,4,6,8,10],"labels":false,"title":null,"tickSize":-5}},
    "y":{"field":"y","type":"quantitative","scale":{"domain":[0,33.3],"nice":false,"zero":false},"axis":null},
    "detail":{"field":"c","type":"nominal"}}},
  {"data":{"name":"base"},"transform":[{"filter":{"field":"c","oneOf":[2,3,4,5,6,7,27,28,29,30]}}],"mark":{"type":"rule","strokeWidth":2,"color":"#000"},
   "encoding":{"y":{"field":"y","type":"quantitative","axis":null}}},
  {"data":{"name":"ann"},"transform":[{"filter":"datum.p == 'B'"}],"mark":{"type":"text","fontSize":13,"color":"#000"},
   "encoding":{"x":{"field":"x","type":"quantitative","axis":{"orient":"top","values":[2,4,6,8,10],"labels":false,"title":null,"tickSize":-5}},"y":{"field":"y","type":"quantitative","axis":null},"text":{"field":"t"}}}
 ]},
{"width":334,"height":333,
 "title":{"text":"Remaining ACF channels","fontSize":12,"fontWeight":"bold","offset":16},
 "layer":[
  {"data":{"name":"acf"},"transform":[{"filter":{"field":"c","oneOf":[2,3,4,5,6,7,27,28,29,30]}}],"mark":{"type":"line","interpolate":"monotone","strokeWidth":2.1,"color":"#000","clip":true},
   "encoding":{
    "x":{"field":"x","type":"quantitative","scale":{"domain":[0,12],"nice":false},"axis":{"orient":"top","values":[2,4,6,8,10],"labels":false,"title":null,"tickSize":-5}},
    "y":{"field":"y","type":"quantitative","scale":{"domain":[0,33.3],"nice":false,"zero":false},"axis":null},
    "detail":{"field":"c","type":"nominal"}}},
  {"data":{"name":"base"},"transform":[{"filter":{"field":"c","oneOf":[1,8,9,10,11,12,13,14,15,16,17,18,19,20,21,22,23,24,25,26]}}],"mark":{"type":"rule","strokeWidth":2,"color":"#000"},
   "encoding":{"y":{"field":"y","type":"quantitative","axis":null}}},
  {"data":{"name":"ann"},"transform":[{"filter":"datum.p == 'C'"}],"mark":{"type":"text","fontSize":13,"color":"#000"},
   "encoding":{"x":{"field":"x","type":"quantitative","axis":{"orient":"top","values":[2,4,6,8,10],"labels":false,"title":null,"tickSize":-5}},"y":{"field":"y","type":"quantitative","axis":null},"text":{"field":"t"}}}
 ]},
{"width":334,"height":198,
 "resolve":{"axis":{"x":"independent","y":"independent"}},
 "layer":[
  {"data":{"name":"pacf"},"transform":[{"filter":"datum.p == 'D' && datum.s == 'k'"}],"mark":{"type":"line","interpolate":"monotone","strokeWidth":2.4,"color":"#000","clip":true},
   "encoding":{
    "x":{"field":"x","type":"quantitative","scale":{"domain":[0,12],"nice":false},"axis":{"orient":"bottom","values":[0,2,4,6,8,10,12],"title":null,"tickSize":-5,"labelPadding":16}},
    "y":{"field":"y","type":"quantitative","scale":{"domain":[-2,6],"nice":false,"zero":false},"axis":{"orient":"left","values":[-2,0,2,4,6],"tickSize":-5,"labelPadding":6,"title":"PACF","titleFontWeight":"bold","titleFontSize":11,"titlePadding":4}}}},
  {"data":{"name":"ann"},"transform":[{"filter":"datum.p == 'D'"}],"mark":{"type":"text","fontSize":12.5,"color":"#000"},
   "encoding":{
    "x":{"field":"x","type":"quantitative","axis":{"orient":"top","values":[2,4,6,8,10],"labels":false,"title":null,"tickSize":-5}},
    "y":{"field":"y","type":"quantitative","axis":{"orient":"right","values":[0,2,4],"labels":false,"title":null,"tickSize":-5}},
    "text":{"field":"t"}}},
  {"data":{"name":"arr"},"transform":[{"filter":"datum.p == 'D'"}],"mark":{"type":"rule","strokeWidth":1.8,"color":"#000"},
   "encoding":{"x":{"field":"x","type":"quantitative","axis":null},"x2":{"field":"x2"},"y":{"field":"y","type":"quantitative","axis":null},"y2":{"field":"y2"}}},
  {"data":{"name":"head"},"transform":[{"filter":"datum.p == 'D'"}],"mark":{"type":"point","shape":"triangle-right","filled":true,"size":70,"color":"#000","opacity":1},
   "encoding":{"x":{"field":"x","type":"quantitative","axis":null},"y":{"field":"y","type":"quantitative","axis":null}}}
 ]},
{"width":334,"height":198,
 "resolve":{"axis":{"x":"independent","y":"independent"}},
 "layer":[
  {"data":{"name":"pacf"},"transform":[{"filter":"datum.p == 'E' && datum.s == 'k'"}],"mark":{"type":"line","interpolate":"monotone","strokeWidth":2.4,"color":"#000","clip":true},
   "encoding":{
    "x":{"field":"x","type":"quantitative","scale":{"domain":[0,12],"nice":false},"axis":{"orient":"bottom","values":[0,2,4,6,8,10,12],"tickSize":-5,"labelPadding":16,"title":"Autocorrelation lag (ms)","titleFontWeight":"bold","titleFontSize":11.5,"titlePadding":12}},
    "y":{"field":"y","type":"quantitative","scale":{"domain":[-2,6],"nice":false,"zero":false},"axis":{"orient":"left","values":[0,2,4],"labels":false,"tickSize":-5,"title":null}}}},
  {"data":{"name":"pacf"},"transform":[{"filter":"datum.p == 'E' && datum.s == 't'"}],"mark":{"type":"line","interpolate":"monotone","strokeWidth":1.3,"color":"#000","clip":true},
   "encoding":{"x":{"field":"x","type":"quantitative","axis":null},"y":{"field":"y","type":"quantitative","axis":null}}},
  {"data":{"name":"ann"},"transform":[{"filter":"datum.p == 'E'"}],"mark":{"type":"text","fontSize":12.5,"color":"#000"},
   "encoding":{
    "x":{"field":"x","type":"quantitative","axis":{"orient":"top","values":[2,4,6,8,10],"labels":false,"title":null,"tickSize":-5}},
    "y":{"field":"y","type":"quantitative","axis":{"orient":"right","values":[0,2,4],"labels":false,"title":null,"tickSize":-5}},
    "text":{"field":"t"}}},
  {"data":{"name":"ital"},"transform":[{"filter":"datum.p == 'E'"}],"mark":{"type":"text","fontSize":12.5,"fontStyle":"italic","color":"#000"},
   "encoding":{"x":{"field":"x","type":"quantitative","axis":null},"y":{"field":"y","type":"quantitative","axis":null},"text":{"field":"t"}}},
  {"data":{"name":"arr"},"transform":[{"filter":"datum.p == 'E'"}],"mark":{"type":"rule","strokeWidth":1.8,"color":"#000"},
   "encoding":{"x":{"field":"x","type":"quantitative","axis":null},"x2":{"field":"x2"},"y":{"field":"y","type":"quantitative","axis":null},"y2":{"field":"y2"}}},
  {"data":{"name":"head"},"transform":[{"filter":"datum.p == 'E'"}],"mark":{"type":"point","shape":"triangle-right","filled":true,"size":70,"color":"#000","opacity":1},
   "encoding":{"x":{"field":"x","type":"quantitative","axis":null},"y":{"field":"y","type":"quantitative","axis":null}}}
 ]},
{"width":334,"height":198,
 "resolve":{"axis":{"x":"independent","y":"independent"}},
 "layer":[
  {"data":{"name":"pacf"},"transform":[{"filter":"datum.p == 'F' && datum.s == 'k'"}],"mark":{"type":"line","interpolate":"monotone","strokeWidth":2.4,"color":"#000","clip":true},
   "encoding":{
    "x":{"field":"x","type":"quantitative","scale":{"domain":[0,12],"nice":false},"axis":{"orient":"bottom","values":[0,2,4,6,8,10,12],"title":null,"tickSize":-5,"labelPadding":16}},
    "y":{"field":"y","type":"quantitative","scale":{"domain":[-2,6],"nice":false,"zero":false},"axis":{"orient":"left","values":[0,2,4],"labels":false,"tickSize":-5,"title":null}}}},
  {"data":{"name":"pacf"},"transform":[{"filter":"datum.p == 'F' && datum.s == 't'"}],"mark":{"type":"line","interpolate":"monotone","strokeWidth":1.3,"color":"#000","clip":true},
   "encoding":{"x":{"field":"x","type":"quantitative","axis":null},"y":{"field":"y","type":"quantitative","axis":null}}},
  {"data":{"name":"ann"},"transform":[{"filter":"datum.p == 'F'"}],"mark":{"type":"text","fontSize":12.5,"color":"#000"},
   "encoding":{
    "x":{"field":"x","type":"quantitative","axis":{"orient":"top","values":[2,4,6,8,10],"labels":false,"title":null,"tickSize":-5}},
    "y":{"field":"y","type":"quantitative","axis":{"orient":"right","values":[0,2,4],"labels":false,"title":null,"tickSize":-5}},
    "text":{"field":"t"}}},
  {"data":{"name":"ital"},"transform":[{"filter":"datum.p == 'F'"}],"mark":{"type":"text","fontSize":12.5,"fontStyle":"italic","color":"#000"},
   "encoding":{"x":{"field":"x","type":"quantitative","axis":null},"y":{"field":"y","type":"quantitative","axis":null},"text":{"field":"t"}}},
  {"data":{"name":"arr"},"transform":[{"filter":"datum.p == 'F'"}],"mark":{"type":"rule","strokeWidth":1.8,"color":"#000"},
   "encoding":{"x":{"field":"x","type":"quantitative","axis":null},"x2":{"field":"x2"},"y":{"field":"y","type":"quantitative","axis":null},"y2":{"field":"y2"}}},
  {"data":{"name":"head"},"transform":[{"filter":"datum.p == 'F'"}],"mark":{"type":"point","shape":"triangle-down","filled":true,"size":70,"color":"#000","opacity":1},
   "encoding":{"x":{"field":"x","type":"quantitative","axis":null},"y":{"field":"y","type":"quantitative","axis":null}}}
 ]}
],
"columns":3,
"spacing":{"row":35,"column":33},
"bounds":"flush"
}
